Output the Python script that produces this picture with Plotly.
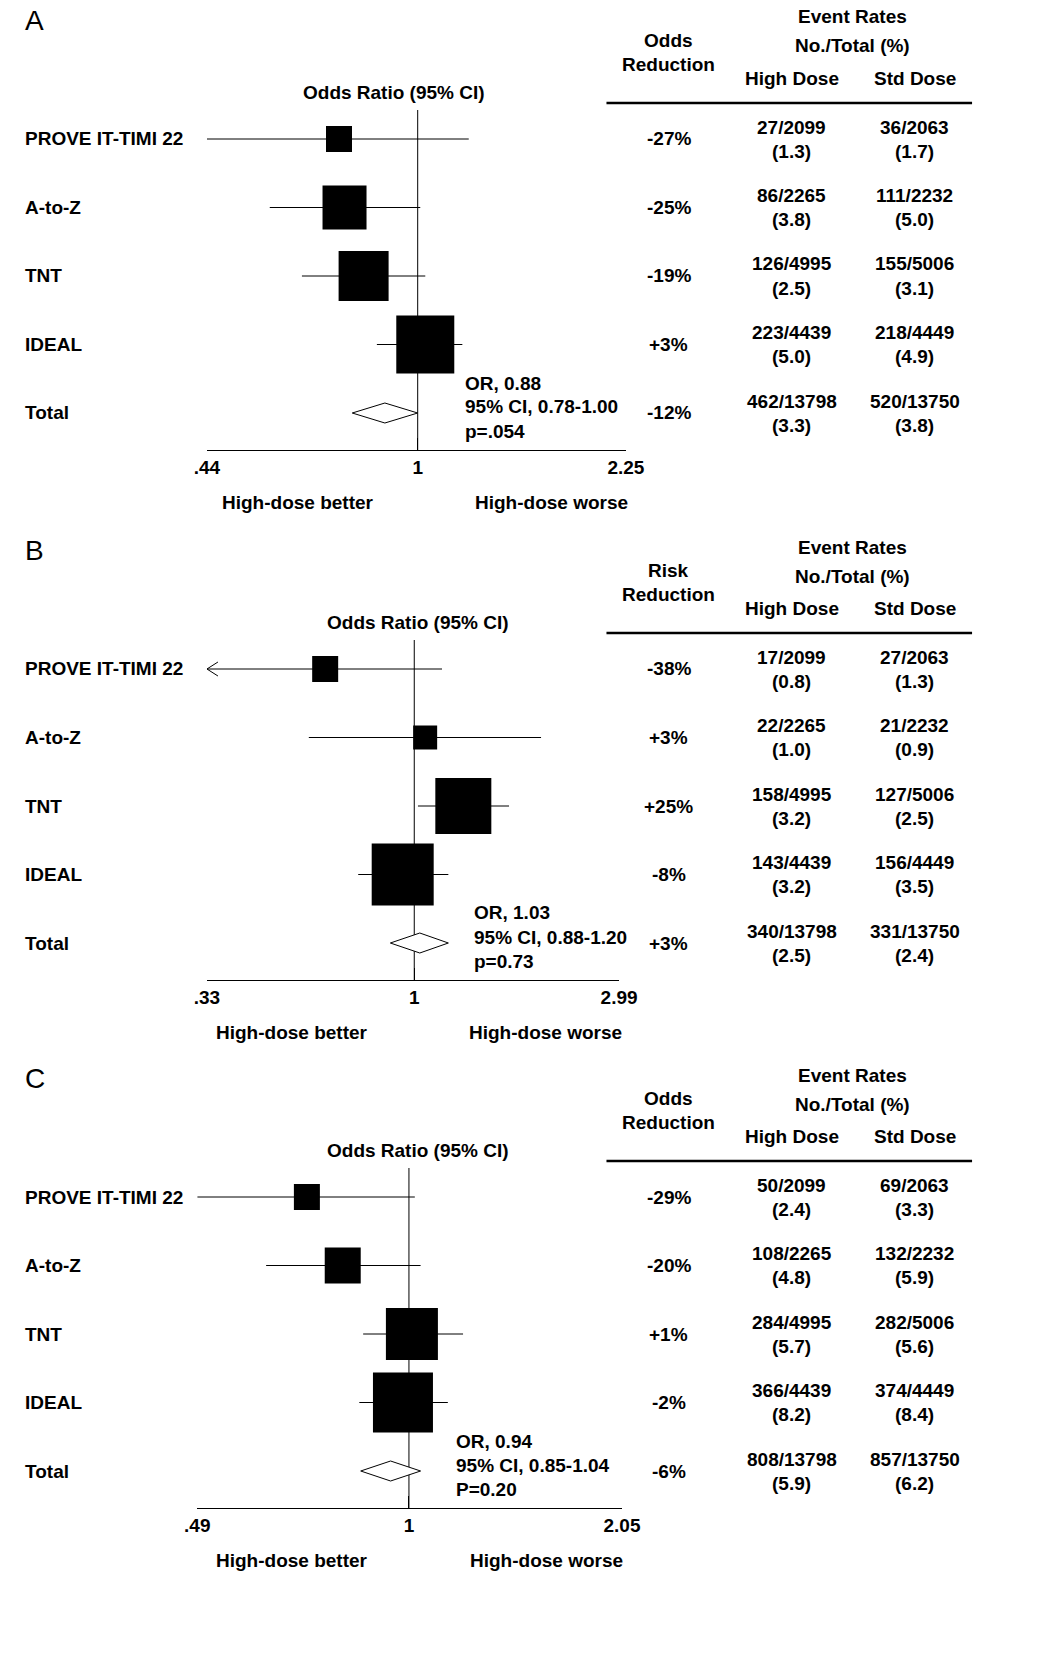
import numpy as np
import plotly.graph_objects as go

W, H = 1057, 1676

studies = ["PROVE IT-TIMI 22", "A-to-Z", "TNT", "IDEAL"]

# panel A
a_or = [0.736, 0.752, 0.81, 1.03]
a_lo = [0.44, 0.562, 0.637, 0.853]
a_hi = [1.22, 1.01, 1.03, 1.19]
a_box = [26, 44, 50, 58]
a_tot = [0.88, 0.775, 1.0]
a_red = ["-27%", "-25%", "-19%", "+3%", "-12%"]
a_high = ["27/2099", "86/2265", "126/4995", "223/4439", "462/13798"]
a_highp = ["(1.3)", "(3.8)", "(2.5)", "(5.0)", "(3.3)"]
a_std = ["36/2063", "111/2232", "155/5006", "218/4449", "520/13750"]
a_stdp = ["(1.7)", "(5.0)", "(3.1)", "(4.9)", "(3.8)"]
a_ticks = [0.44, 1, 2.25]
a_ticktext = [".44", "1", "2.25"]

# panel B
b_or = [0.621, 1.06, 1.30, 0.94]
b_lo = [0.33, 0.569, 1.02, 0.741]
b_hi = [1.16, 1.97, 1.66, 1.2]
b_box = [26, 24, 56, 62]
b_tot = [1.03, 0.88, 1.20]
b_red = ["-38%", "+3%", "+25%", "-8%", "+3%"]
b_high = ["17/2099", "22/2265", "158/4995", "143/4439", "340/13798"]
b_highp = ["(0.8)", "(1.0)", "(3.2)", "(3.2)", "(2.5)"]
b_std = ["27/2063", "21/2232", "127/5006", "156/4449", "331/13750"]
b_stdp = ["(1.3)", "(0.9)", "(2.5)", "(3.5)", "(2.4)"]
b_ticks = [0.33, 1, 2.99]
b_ticktext = [".33", "1", "2.99"]

# panel C
c_or = [0.709, 0.80, 1.01, 0.98]
c_lo = [0.49, 0.618, 0.857, 0.846]
c_hi = [1.02, 1.04, 1.2, 1.14]
c_box = [26, 36, 52, 60]
c_tot = [0.94, 0.85, 1.04]
c_red = ["-29%", "-20%", "+1%", "-2%", "-6%"]
c_high = ["50/2099", "108/2265", "284/4995", "366/4439", "808/13798"]
c_highp = ["(2.4)", "(4.8)", "(5.7)", "(8.2)", "(5.9)"]
c_std = ["69/2063", "132/2232", "282/5006", "374/4449", "857/13750"]
c_stdp = ["(3.3)", "(5.9)", "(5.6)", "(8.4)", "(6.2)"]
c_ticks = [0.49, 1, 2.05]
c_ticktext = [".49", "1", "2.05"]

panels = [
    dict(letter="A", red_lbl="Odds", off=0, x0=200, x1=632, or_=a_or, lo=a_lo, hi=a_hi, box=a_box,
         tot=a_tot, red=a_red, high=a_high, highp=a_highp, std=a_std, stdp=a_stdp,
         ticks=a_ticks, tt=a_ticktext, ortxt=["OR, 0.88", "95% CI, 0.78-1.00", "p=.054"], orx=464,
         orhdr=393, better=294, worse=555),
    dict(letter="B", red_lbl="Risk", off=530, x0=200, x1=625, or_=b_or, lo=b_lo, hi=b_hi, box=b_box,
         tot=b_tot, red=b_red, high=b_high, highp=b_highp, std=b_std, stdp=b_stdp,
         ticks=b_ticks, tt=b_ticktext, ortxt=["OR, 1.03", "95% CI, 0.88-1.20", "p=0.73"], orx=473,
         orhdr=418, better=288, worse=549),
    dict(letter="C", red_lbl="Odds", off=1058, x0=190, x1=628, or_=c_or, lo=c_lo, hi=c_hi, box=c_box,
         tot=c_tot, red=c_red, high=c_high, highp=c_highp, std=c_std, stdp=c_stdp,
         ticks=c_ticks, tt=c_ticktext, ortxt=["OR, 0.94", "95% CI, 0.85-1.04", "P=0.20"], orx=455,
         orhdr=418, better=288, worse=550),
]

FONT = "Liberation Sans, Arial, sans-serif"
FS = 19


def px(x):
    return x / W


def py(y):
    return 1 - y / H


fig = go.Figure()
annos = []
shapes = []


def txt(x, y, s, size=FS, anchor="center", bold=True):
    annos.append(dict(x=px(x), y=py(y), xref="paper", yref="paper", showarrow=False,
                      text=f"<b>{s}</b>" if bold else s, xanchor=anchor, yanchor="middle",
                      font=dict(family=FONT, size=size, color="black")))


for i, p in enumerate(panels):
    xa = "x" if i == 0 else f"x{i + 1}"
    off = p["off"]
    rows = [139 + off + 68.5 * k for k in range(5)]
    axis_y = 450 + off
    layout_key = "xaxis" if i == 0 else f"xaxis{i + 1}"
    fig.update_layout({layout_key: dict(
        type="log", domain=[px(p["x0"]), px(p["x1"])],
        range=[np.log10(p["ticks"][0]), np.log10(p["ticks"][-1])],
        anchor="free", position=py(axis_y), showgrid=False, zeroline=False,
        showline=True, linecolor="black", linewidth=1, ticks="inside", ticklen=12,
        tickcolor="black", tickvals=p["ticks"], ticktext=[f"<b>{t}</b>" for t in p["tt"]],
        tickfont=dict(family=FONT, size=FS, color="black"))})

    # CI lines
    for k in range(4):
        fig.add_trace(go.Scatter(x=[p["lo"][k], p["hi"][k]], y=[rows[k], rows[k]], xaxis=xa, yaxis="y",
                                 mode="lines", line=dict(color="black", width=1), showlegend=False))
    fig.add_trace(go.Scatter(x=p["or_"], y=rows[:4], xaxis=xa, yaxis="y", mode="markers", opacity=1,
                             marker=dict(symbol="square", size=p["box"], color="black", opacity=1,
                                         line=dict(width=0)),
                             showlegend=False))
    # diamond
    c, lo, hi = p["tot"]
    ty = rows[4]
    fig.add_trace(go.Scatter(x=[lo, c, hi, c, lo], y=[ty, ty - 10, ty, ty + 10, ty], xaxis=xa, yaxis="y",
                             mode="lines", fill="toself", fillcolor="white",
                             line=dict(color="black", width=1), showlegend=False))
    if i == 1:
        # open arrowhead on the truncated CI
        fig.add_trace(go.Scatter(x=[0.35, 0.33, 0.35], y=[rows[0] - 7, rows[0], rows[0] + 7], xaxis=xa,
                                 yaxis="y", mode="lines", line=dict(color="black", width=1), showlegend=False))
    # line of no effect
    shapes.append(dict(type="line", xref=xa, yref="y", x0=1, x1=1, y0=110 + off, y1=axis_y,
                       layer="below", line=dict(color="black", width=1)))

    # labels
    txt(10, 20 + off, p["letter"], size=28, anchor="left", bold=False)
    txt(p["orhdr"], 92 + off, "Odds Ratio (95% CI)")
    for k, s in enumerate(studies + ["Total"]):
        txt(10, rows[k], s, anchor="left")
    for j, s in enumerate(p["ortxt"]):
        txt(p["orx"], 383 + off + 24 * j, s, anchor="left")
    txt(p["better"], 502 + off, "High-dose better")
    txt(p["worse"], 502 + off, "High-dose worse")

    # table
    txt(866, 17 + off, "Event Rates")
    txt(866, 46 + off, "No./Total (%)")
    txt(676, 40 + off, p["red_lbl"])
    txt(676, 64 + off, "Reduction")
    txt(803, 78 + off, "High Dose")
    txt(930, 78 + off, "Std Dose")
    shapes.append(dict(type="line", xref="paper", yref="paper", x0=px(612), x1=px(989),
                       y0=py(103 + off), y1=py(103 + off), line=dict(color="black", width=2.5)))
    for k in range(5):
        txt(676, rows[k], p["red"][k])
        txt(803, rows[k] - 12, p["high"][k])
        txt(803, rows[k] + 12, p["highp"][k])
        txt(930, rows[k] - 12, p["std"][k])
        txt(930, rows[k] + 12, p["stdp"][k])

fig.update_layout(
    width=W, height=H, margin=dict(l=0, r=0, t=0, b=0),
    paper_bgcolor="white", plot_bgcolor="rgba(0,0,0,0)",
    yaxis=dict(range=[H, 0], domain=[0, 1], visible=False, fixedrange=True),
    annotations=annos, shapes=shapes, showlegend=False,
)
fig.write_html("out.html", config={"displayModeBar": False},
               post_script="document.body.style.margin='0';document.body.style.overflow='hidden';")
